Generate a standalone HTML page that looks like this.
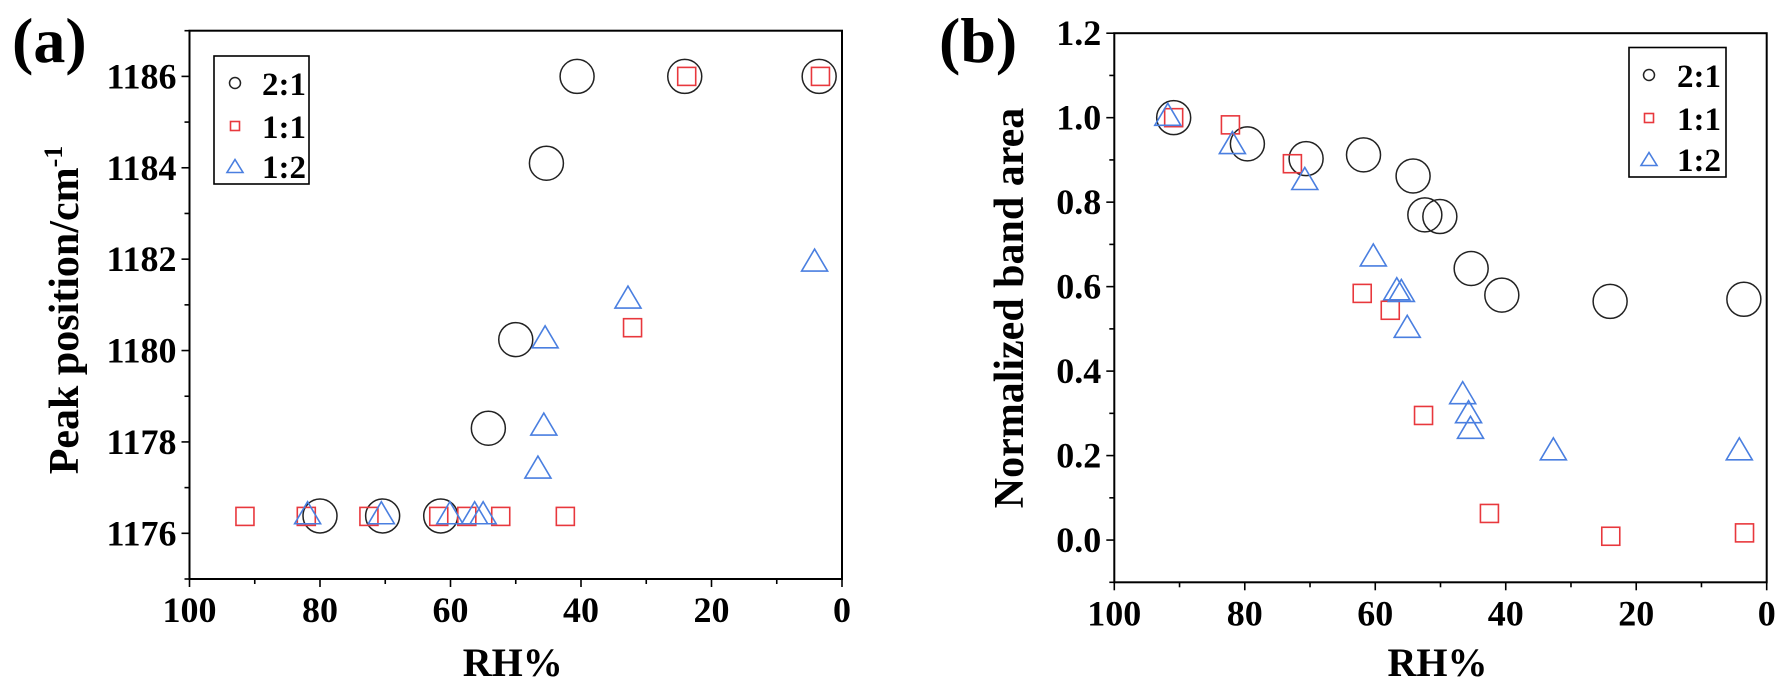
<!DOCTYPE html>
<html><head><meta charset="utf-8"><style>
html,body{margin:0;padding:0;background:#fff;}
svg{display:block;}
svg text{font-family:"Liberation Serif","Times New Roman",Times,serif;font-weight:700;}
</style></head><body>
<svg id="fig" width="1792" height="695" viewBox="0 0 1792 695" xmlns="http://www.w3.org/2000/svg" font-family="Liberation Serif, Times New Roman, serif" font-weight="bold"></svg>
<script>
// ---- Panel (a) data ----
const aRH21 = [80.0, 70.4, 61.5, 54.2, 50.0, 45.3, 40.6, 24.1, 3.5];
const aPk21 = [1176.38, 1176.38, 1176.38, 1178.3, 1180.24, 1184.1, 1186.0, 1186.0, 1186.0];
const aRH11 = [91.5, 82.1, 72.5, 61.8, 57.5, 52.3, 42.4, 32.1, 23.8, 3.3];
const aPk11 = [1176.37, 1176.37, 1176.37, 1176.37, 1176.37, 1176.37, 1176.37, 1180.5, 1186.0, 1186.0];
const aRH12 = [81.9, 70.6, 60.1, 56.3, 55.0, 46.6, 45.7, 45.5, 32.8, 4.2];
const aPk12 = [1176.45, 1176.45, 1176.45, 1176.45, 1176.45, 1177.45, 1178.39, 1180.3, 1181.17, 1181.98];
const aYTicks = [1176, 1178, 1180, 1182, 1184, 1186];
// ---- Panel (b) data ----
const bRH21 = [90.9, 79.6, 70.6, 61.8, 54.2, 52.4, 50.1, 45.3, 40.6, 24.0, 3.5];
const bA21 = [1.0, 0.938, 0.903, 0.912, 0.862, 0.770, 0.766, 0.643, 0.580, 0.565, 0.570];
const bRH11 = [90.9, 82.2, 72.7, 62.0, 57.7, 52.6, 42.5, 23.9, 3.4];
const bA11 = [1.0, 0.983, 0.891, 0.584, 0.544, 0.295, 0.063, 0.009, 0.017];
const bRH12 = [91.8, 81.9, 70.8, 60.3, 56.7, 56.0, 55.1, 46.6, 45.7, 45.4, 32.7, 4.2];
const bA12 = [1.008, 0.941, 0.856, 0.675, 0.595, 0.591, 0.506, 0.349, 0.304, 0.267, 0.216, 0.216];
const bYTicks = ["0.0", "0.2", "0.4", "0.6", "0.8", "1.0", "1.2"];
const xTicks = [100, 80, 60, 40, 20, 0];

const NS = "http://www.w3.org/2000/svg";
const svg = document.getElementById("fig");
const FONT = "Liberation Serif, Times New Roman, serif";
function mk(tag, attrs, parent) {
  const e = document.createElementNS(NS, tag);
  for (const k in attrs) e.setAttribute(k, attrs[k]);
  if (tag === "text") { e.setAttribute("font-family", FONT); e.setAttribute("font-weight", "bold"); }
  (parent || svg).appendChild(e);
  return e;
}
const RED = "#e8383d", BLUE = "#4a7fe0";

function panel(P) {
  const g = mk("g", {});
  
  
  const X = rh => P.left + (P.xMax - rh) / (P.xMax - P.xMin) * (P.right - P.left);
  const Y = v => P.bottom - (v - P.yMin) / (P.yMax - P.yMin) * (P.bottom - P.top);
  const fr = mk("rect", {x: P.left, y: P.top, width: P.right - P.left, height: P.bottom - P.top, fill: "none", stroke: "#000", "stroke-width": 2}, g);
  
  
  for (let v = P.xMin; v <= P.xMax + 0.01; v += 10) {
    const major = Math.round(v) % 20 === 0;
    mk("line", {x1: X(v), x2: X(v), y1: P.bottom, y2: P.bottom + (major ? 8 : 5), stroke: "#000", "stroke-width": 1.6}, g);
  }
  xTicks.forEach(t => {
    const tx = mk("text", {x: X(t), y: P.bottom + 43, "font-size": 36, "text-anchor": "middle"}, g);
    tx.textContent = t;
    
    
  });
  const xt = mk("text", {x: (P.left + P.right) / 2 - 3, y: 676, "font-size": 40, "text-anchor": "middle"}, g);
  xt.textContent = "RH%";
  
  
  for (let v = P.yMin; v <= P.yMax + 1e-6; v += P.yMinor) {
    const isMajor = Math.abs(((v - P.yMajorBase) / P.yMajor) - Math.round((v - P.yMajorBase) / P.yMajor)) < 1e-6;
    mk("line", {x1: P.left - (isMajor ? 8 : 5), x2: P.left, y1: Y(v), y2: Y(v), stroke: "#000", "stroke-width": 1.6}, g);
  }
  P.yTicks.forEach(t => {
    const ty = mk("text", {x: P.left - 13, y: Y(parseFloat(t)) + 12, "font-size": 36, "text-anchor": "end"}, g);
    ty.textContent = t;
    
    
  });
  const yt = mk("text", {x: 0, y: 0, "font-size": P.yTitleSize, "text-anchor": "middle", transform: `translate(${P.yTitleX},${P.yTitleY}) rotate(-90)`}, g);
  yt.innerHTML = P.yTitle;
  
  
  const pl = mk("text", {x: P.labX, y: 62, "font-size": 64}, g);
  pl.textContent = P.label;
  
  
  function circle(cx, cy, r, parent) {
    return mk("circle", {cx: cx, cy: cy, r: r, fill: "none", stroke: "#222", "stroke-width": 1.5}, parent);
  }
  function square(cx, cy, s, parent) {
    return mk("rect", {x: cx - s / 2, y: cy - s / 2, width: s, height: s, fill: "none", stroke: RED, "stroke-width": 1.6}, parent);
  }
  function tri(cx, cy, w, h, parent) {
    return mk("polygon", {points: `${cx - w / 2},${cy + h / 2} ${cx + w / 2},${cy + h / 2} ${cx},${cy - h / 2}`, fill: "none", stroke: BLUE, "stroke-width": 1.6}, parent);
  }
  P.s21x.forEach((rh, i) => {
    const m = circle(X(rh), Y(P.s21y[i]), 17, g);
    
    
  });
  P.s11x.forEach((rh, i) => {
    const m = square(X(rh), Y(P.s11y[i]), 18, g);
    
    
  });
  P.s12x.forEach((rh, i) => {
    const m = tri(X(rh), Y(P.s12y[i]), 26, 22, g);
    
    
  });
  const lg = mk("g", {}, g);
  
  
  mk("rect", {x: P.lg.x, y: P.lg.y, width: P.lg.w, height: P.lg.h, fill: "#fff", stroke: "#000", "stroke-width": 1.6}, lg);
  const names = ["2:1", "1:1", "1:2"];
  names.forEach((n, i) => {
    const cy = P.lg.rows[i];
    let m;
    if (i === 0) m = circle(P.lg.mx, cy, 5.5, lg);
    else if (i === 1) m = square(P.lg.mx, cy, 9, lg);
    else m = tri(P.lg.mx, cy, 16, 13, lg);
    
    
    const t = mk("text", {x: P.lg.tx, y: cy + 12, "font-size": 33}, lg);
    t.textContent = n;
    
    
  });
}

panel({
  name: "panel-a", label: "(a)", labX: 12,
  left: 189.5, right: 842, top: 30.7, bottom: 579,
  xMin: 0, xMax: 100, yMin: 1175, yMax: 1187,
  yMinor: 1, yMajor: 2, yMajorBase: 1176, yTicks: aYTicks.map(String),
  yTitle: 'Peak position/cm<tspan dy="-16" font-size="26">-1</tspan>', yTitleSize: 42, yTitleX: 78, yTitleY: 310,
  s21x: aRH21, s21y: aPk21, s11x: aRH11, s11y: aPk11, s12x: aRH12, s12y: aPk12,
  lg: {x: 214, y: 56, w: 95, h: 128, mx: 235, tx: 262, rows: [83, 126, 166]}
});
panel({
  name: "panel-b", label: "(b)", labX: 939,
  left: 1114.3, right: 1766.7, top: 33.2, bottom: 582.3,
  xMin: 0, xMax: 100, yMin: -0.1, yMax: 1.2,
  yMinor: 0.1, yMajor: 0.2, yMajorBase: 0, yTicks: bYTicks,
  yTitle: 'Normalized band area', yTitleSize: 42, yTitleX: 1023, yTitleY: 308,
  s21x: bRH21, s21y: bA21, s11x: bRH11, s11y: bA11, s12x: bRH12, s12y: bA12,
  lg: {x: 1629, y: 47.5, w: 97, h: 129.5, mx: 1649, tx: 1677, rows: [75, 118, 159]}
});
</script>
</body></html>
